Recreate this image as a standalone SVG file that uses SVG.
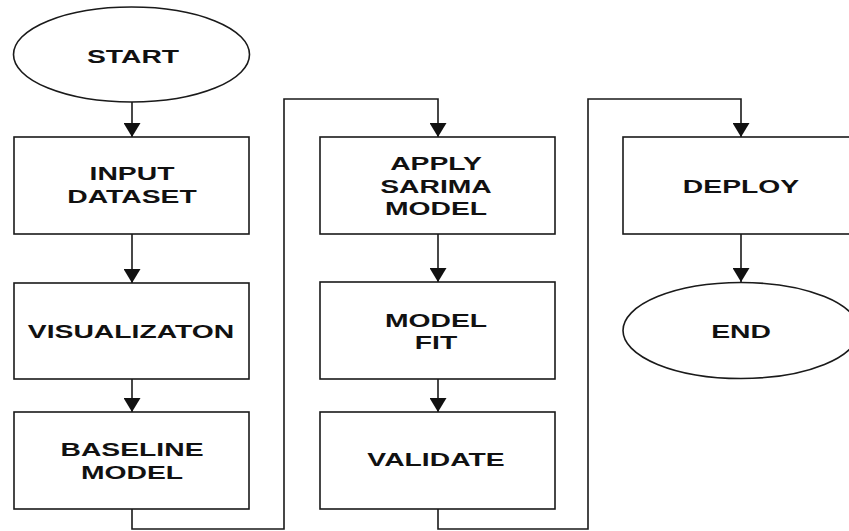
<svg xmlns="http://www.w3.org/2000/svg" width="849" height="531" viewBox="0 0 849 531">
  <style>
    .shape { fill: #ffffff; stroke: #1a1a1a; stroke-width: 1.6; }
    .conn { fill: none; stroke: #1a1a1a; stroke-width: 1.6; }
    .lbl { font-family: "Liberation Sans", Arial, sans-serif; font-weight: bold; font-size: 19px; fill: #111111; text-anchor: middle; }
  </style>
  <defs>
    <marker id="ah" markerUnits="userSpaceOnUse" markerWidth="14" markerHeight="17" refX="14" refY="8.5" orient="auto" viewBox="0 0 14 17">
      <path d="M0,0 L14,8.5 L0,17 Z" fill="#111111"/>
    </marker>
  </defs>
  <rect width="849" height="531" fill="#ffffff"/>

  <g id="connectors">
    <path class="conn" d="M132,102 V137" marker-end="url(#ah)"/>
    <path class="conn" d="M132,234 V283" marker-end="url(#ah)"/>
    <path class="conn" d="M132,379 V412" marker-end="url(#ah)"/>
    <path class="conn" d="M132,509 V529 H284 V99 H438 V137" marker-end="url(#ah)"/>
    <path class="conn" d="M438,234 V282" marker-end="url(#ah)"/>
    <path class="conn" d="M438,379 V412" marker-end="url(#ah)"/>
    <path class="conn" d="M438,509 V529 H588 V99 H741 V137" marker-end="url(#ah)"/>
    <path class="conn" d="M741,234 V282" marker-end="url(#ah)"/>
  </g>

  <g id="start">
    <ellipse class="shape" cx="131.5" cy="54.5" rx="118" ry="47.5"/>
    <text class="lbl" transform="translate(133 0) scale(1.49 1)" x="0" y="63">START</text>
  </g>
  <g id="input-dataset">
    <rect class="shape" x="14" y="137" width="235" height="97"/>
    <text class="lbl" transform="translate(132 0) scale(1.49 1)" x="0" y="180">INPUT</text>
    <text class="lbl" transform="translate(132 0) scale(1.49 1)" x="0" y="203">DATASET</text>
  </g>
  <g id="visualization">
    <rect class="shape" x="14" y="283" width="235" height="96"/>
    <text class="lbl" transform="translate(131 0) scale(1.49 1)" x="0" y="338">VISUALIZATON</text>
  </g>
  <g id="baseline-model">
    <rect class="shape" x="14" y="412" width="235" height="97"/>
    <text class="lbl" transform="translate(132 0) scale(1.49 1)" x="0" y="456">BASELINE</text>
    <text class="lbl" transform="translate(132 0) scale(1.49 1)" x="0" y="479">MODEL</text>
  </g>
  <g id="apply-sarima">
    <rect class="shape" x="320" y="137" width="235" height="97"/>
    <text class="lbl" transform="translate(436 0) scale(1.49 1)" x="0" y="170">APPLY</text>
    <text class="lbl" transform="translate(436 0) scale(1.49 1)" x="0" y="193">SARIMA</text>
    <text class="lbl" transform="translate(436 0) scale(1.49 1)" x="0" y="215">MODEL</text>
  </g>
  <g id="model-fit">
    <rect class="shape" x="320" y="282" width="235" height="97"/>
    <text class="lbl" transform="translate(436 0) scale(1.49 1)" x="0" y="327">MODEL</text>
    <text class="lbl" transform="translate(436 0) scale(1.49 1)" x="0" y="349">FIT</text>
  </g>
  <g id="validate">
    <rect class="shape" x="320" y="412" width="235" height="97"/>
    <text class="lbl" transform="translate(436 0) scale(1.49 1)" x="0" y="466">VALIDATE</text>
  </g>
  <g id="deploy">
    <rect class="shape" x="623" y="137" width="235" height="97"/>
    <text class="lbl" transform="translate(741 0) scale(1.49 1)" x="0" y="193">DEPLOY</text>
  </g>
  <g id="end">
    <ellipse class="shape" cx="741" cy="330.5" rx="118" ry="48"/>
    <text class="lbl" transform="translate(741 0) scale(1.49 1)" x="0" y="338">END</text>
  </g>
</svg>
